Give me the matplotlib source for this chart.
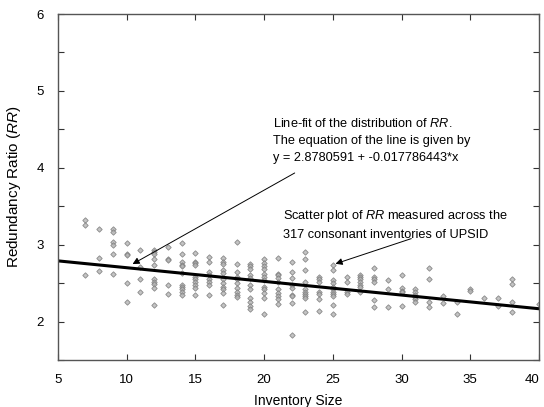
import numpy as np
import matplotlib
matplotlib.use("Agg")
from matplotlib import pyplot as plt
from matplotlib.ticker import MultipleLocator

plt.rcParams['font.family'] = ['Liberation Sans', 'DejaVu Sans']
plt.rcParams['mathtext.fontset'] = 'custom'
plt.rcParams['mathtext.rm'] = 'Liberation Sans'
plt.rcParams['mathtext.it'] = 'Liberation Sans:italic'

# one row per inventory size
inventory_size = (
    [7] * 3 + [8] * 3 + [9] * 6 + [10] * 5 + [11] * 4 + [12] * 10 + [13] * 5
    + [14] * 11 + [15] * 10 + [16] * 8 + [17] * 11 + [18] * 10 + [19] * 11
    + [20] * 12 + [21] * 10 + [22] * 9 + [23] * 10 + [24] * 7 + [25] * 11
    + [26] * 4 + [27] * 7 + [28] * 6 + [29] * 3 + [30] * 5 + [31] * 6
    + [32] * 4 + [33] * 2 + [34] * 2 + [35] * 2 + [36] * 1 + [37] * 2
    + [38] * 4 + [40] * 1
)
redundancy_ratio = [
    3.32, 3.25, 2.61,
    3.21, 2.83, 2.66,
    3.20, 3.16, 3.03, 2.99, 2.88, 2.62,
    3.02, 2.88, 2.86, 2.50, 2.25,
    2.93, 2.71, 2.55, 2.39,
    2.93, 2.90, 2.88, 2.81, 2.74, 2.55, 2.52, 2.49, 2.44, 2.21,
    2.97, 2.82, 2.80, 2.48, 2.36,
    3.02, 2.88, 2.77, 2.74, 2.72, 2.63, 2.47, 2.45, 2.42, 2.38, 2.35,
    2.89, 2.78, 2.76, 2.73, 2.58, 2.55, 2.51, 2.48, 2.44, 2.35,
    2.84, 2.77, 2.64, 2.61, 2.55, 2.51, 2.48, 2.34,
    2.83, 2.78, 2.75, 2.67, 2.63, 2.55, 2.50, 2.45, 2.42, 2.37, 2.21,
    3.03, 2.75, 2.65, 2.58, 2.55, 2.50, 2.44, 2.39, 2.35, 2.32,
    2.75, 2.72, 2.68, 2.61, 2.57, 2.48, 2.42, 2.31, 2.26, 2.20, 2.16,
    2.81, 2.76, 2.72, 2.68, 2.62, 2.58, 2.54, 2.45, 2.42, 2.37, 2.31, 2.10,
    2.83, 2.62, 2.60, 2.57, 2.52, 2.42, 2.37, 2.33, 2.29, 2.23,
    2.77, 2.65, 2.57, 2.47, 2.44, 2.35, 2.33, 2.24, 1.83,
    2.90, 2.81, 2.67, 2.52, 2.42, 2.39, 2.36, 2.33, 2.30, 2.13,
    2.58, 2.55, 2.51, 2.39, 2.36, 2.29, 2.14,
    2.73, 2.67, 2.54, 2.50, 2.45, 2.42, 2.39, 2.36, 2.33, 2.22, 2.10,
    2.58, 2.51, 2.39, 2.36,
    2.61, 2.58, 2.55, 2.51, 2.48, 2.45, 2.39,
    2.70, 2.58, 2.55, 2.52, 2.28, 2.19,
    2.54, 2.42, 2.19,
    2.61, 2.44, 2.40, 2.38, 2.20,
    2.42, 2.39, 2.35, 2.32, 2.29, 2.26,
    2.70, 2.55, 2.26, 2.19,
    2.33, 2.24,
    2.25, 2.10,
    2.42, 2.40,
    2.30,
    2.31, 2.20,
    2.55, 2.49, 2.26, 2.13,
    2.23,
]
x_ticks = [5, 10, 15, 20, 25, 30, 35, 40]
y_ticks = [2, 3, 4, 5, 6]

intercept = 2.8780591
slope = -0.017786443
fit_x = np.array([5, 40])

fig = plt.figure(figsize=(5.44, 4.07), dpi=100)
ax = fig.add_axes([0.1066, 0.1155, 0.8842, 0.8501])

ax.plot(inventory_size, redundancy_ratio, linestyle='none', marker='D', ms=2.8,
        mfc='#b4b4b4', mec='#767676', mew=0.6, alpha=0.8)
ax.plot(fit_x, intercept + slope * fit_x, color='black', lw=2.2)

ax.set_xlim(5, 40)
ax.set_ylim(1.5, 6)
ax.set_xticks(x_ticks)
ax.set_yticks(y_ticks)
ax.yaxis.set_minor_locator(MultipleLocator(0.5))
ax.tick_params(which='both', direction='in', top=True, right=True,
               labelsize=9.5, width=0.8, color='#333333')
ax.tick_params(which='major', length=4, pad=10)
ax.tick_params(which='minor', length=4)
for s in ax.spines.values():
    s.set_color('#555555')
    s.set_linewidth(1.0)

# last x label sits at the figure edge, keep it inside
ax.xaxis.get_major_ticks()[-1].label1.set_horizontalalignment('right')

ax.set_xlabel('Inventory Size', fontsize=10, labelpad=6)
ax.set_ylabel(r'Redundancy Ratio ($\it{RR}$)', fontsize=11, labelpad=10)

ax.text(20.65, 4.66, 'Line-fit of the distribution of $\\it{RR}$.\n'
        'The equation of the line is given by\n'
        'y = 2.8780591 + -0.017786443*x',
        fontsize=9.2, va='top', ha='left', linespacing=1.55)
ax.annotate('', xy=(10.25, 2.73), xytext=(22.4, 3.95),
            arrowprops=dict(arrowstyle='-|>', color='black', lw=0.7,
                            mutation_scale=10))

ax.text(21.4, 3.48, 'Scatter plot of $\\it{RR}$ measured across the\n'
        '317 consonant inventories of UPSID',
        fontsize=9.2, va='top', ha='left', linespacing=1.55)
ax.annotate('', xy=(25.0, 2.74), xytext=(30.9, 3.09),
            arrowprops=dict(arrowstyle='-|>', color='black', lw=0.7,
                            mutation_scale=10))

fig.savefig('out.png', dpi=100)
